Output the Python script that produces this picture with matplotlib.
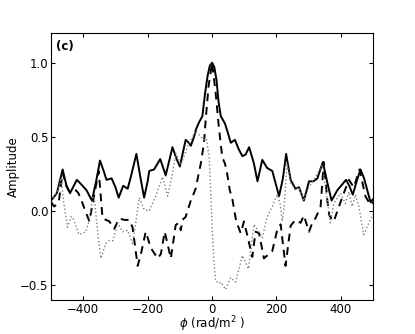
import numpy as np
import matplotlib
matplotlib.use("Agg")
import matplotlib.pyplot as plt

# amplitude |F(phi)| (solid)
phi_amp = [-500, -482, -464, -452, -441, -420, -402, -390, -373, -360, -348, -335, -328, -312,
           -300, -290, -276, -262, -250, -235, -222, -211, -200, -195, -180, -161, -150, -144,
           -134, -123, -110, -100, -90, -82, -72, -66, -56, -50, -40, -30, -22, -14, -7, 0,
           7, 14, 20, 27, 40, 50, 58, 71, 82, 94, 104, 115, 122, 130, 141, 156, 171, 187,
           208, 220, 230, 244, 259, 270, 285, 301, 315, 327, 344, 357, 371, 389, 416, 426,
           437, 449, 461, 472, 482, 492, 500]
amp = [0.07, 0.12, 0.28, 0.17, 0.12, 0.21, 0.17, 0.14, 0.07, 0.20, 0.34, 0.26, 0.21, 0.22,
       0.16, 0.09, 0.17, 0.15, 0.25, 0.385, 0.22, 0.09, 0.20, 0.27, 0.28, 0.35, 0.28, 0.24,
       0.33, 0.43, 0.35, 0.30, 0.40, 0.48, 0.46, 0.44, 0.50, 0.55, 0.60, 0.64, 0.79, 0.91, 0.98, 1.0,
       0.97, 0.88, 0.74, 0.64, 0.59, 0.52, 0.46, 0.48, 0.42, 0.37, 0.38, 0.43, 0.38, 0.32, 0.20, 0.345, 0.29, 0.27,
       0.10, 0.22, 0.385, 0.21, 0.15, 0.16, 0.07, 0.20, 0.20, 0.22, 0.33, 0.20, 0.07, 0.14, 0.21, 0.17,
       0.11, 0.20, 0.28, 0.22, 0.14, 0.06, 0.08]

# real part (dashed)
phi_re = [-500, -490, -476, -464, -455, -443, -423, -415, -402, -397, -381, -371, -352, -340,
          -319, -304, -288, -273, -257, -247, -231, -221, -206, -190, -169, -159, -147, -128,
          -113, -104, -97, -92, -82, -66, -51, -35, -25, -20, -11, 0, 11, 20, 27, 32, 40, 47,
          55, 63, 75, 89, 99, 110, 125, 135, 146, 161, 187, 202, 213, 228, 244, 259, 275, 285,
          301, 313, 321, 337, 347, 358, 364, 378, 394, 409, 425, 440, 458, 476, 492, 500]
re = [0.06, 0.03, 0.06, 0.26, 0.18, 0.13, 0.14, 0.12, 0.05, 0.02, -0.07, 0.05, 0.27, -0.05,
      -0.07, -0.12, -0.05, -0.06, -0.06, -0.11, -0.37, -0.29, -0.14, -0.25, -0.32, -0.29, -0.14, -0.32,
      -0.095, -0.08, -0.13, -0.06, -0.04, 0.07, 0.15, 0.32, 0.46, 0.61, 0.84, 1.0, 0.80, 0.59, 0.45, 0.36, 0.32, 0.25,
      0.14, 0.08, -0.07, -0.15, -0.07, -0.17, -0.31, -0.14, -0.15, -0.32, -0.27, -0.13, -0.09, -0.37, -0.10, -0.06, -0.08, -0.03,
      -0.14, -0.07, -0.05, 0.03, 0.33, 0.07, -0.03, -0.07, 0.03, 0.12, 0.21, 0.16, 0.28, 0.10, 0.04, 0.06]

# imaginary part (dotted)
phi_im = [-500, -490, -480, -469, -460, -449, -438, -433, -413, -392, -381, -371, -366, -355,
          -345, -330, -319, -308, -293, -278, -262, -247, -235, -226, -211, -195, -175, -154,
          -138, -123, -113, -97, -77, -51, -35, -25, -18, -9, -4, 1, 6, 11, 22, 27, 42, 58,
          73, 94, 113, 130, 156, 171, 187, 202, 211, 218, 223, 233, 244, 259, 270, 285, 301,
          316, 342, 356, 367, 378, 399, 414, 425, 435, 445, 456, 471, 487, 500]
im = [0.07, 0.10, 0.13, 0.22, 0.05, -0.11, -0.04, -0.04, -0.16, -0.14, -0.06, 0.09, 0.10, -0.15,
      -0.32, -0.22, -0.20, -0.20, -0.08, -0.14, -0.13, -0.22, -0.05, 0.09, 0.01, 0.0, 0.10, 0.23,
      0.10, 0.25, 0.39, 0.31, 0.43, 0.54, 0.50, 0.48, 0.49, 0.37, 0.12, -0.15, -0.35, -0.47, -0.49, -0.48, -0.53, -0.45,
      -0.48, -0.30, -0.39, -0.09, -0.18, -0.04, 0.03, 0.11, 0.05, -0.07, 0.01, 0.32, 0.19, 0.14, 0.16, 0.07, 0.16,
      0.21, 0.31, 0.10, -0.08, 0.05, 0.12, 0.05, 0.13, 0.03, 0.11, 0.03, -0.16, -0.08, -0.02]

fig = plt.figure(figsize=(4.15, 3.34), dpi=100)
ax = fig.add_axes([0.123, 0.102, 0.776, 0.799])

ax.plot(phi_amp, amp, color="black", lw=1.4, ls="-")
ax.plot(phi_re, re, color="black", lw=1.4, ls="--", dashes=(4, 3))
ax.plot(phi_im, im, color="gray", lw=1.0, ls=":")

ax.set_xlim(-500, 500)
ax.set_ylim(-0.6, 1.2)
ax.set_xticks([-400, -200, 0, 200, 400])
ax.set_yticks([-0.5, 0.0, 0.5, 1.0])
ax.tick_params(direction="in", top=True, right=True, labelsize=8.5, length=3, pad=2)
ax.set_xlabel(r"$\phi$ (rad/m$^2$ )", fontsize=8.5, labelpad=-1)
ax.set_ylabel("Amplitude", fontsize=8.5, labelpad=0)
ax.text(0.015, 0.975, "(c)", transform=ax.transAxes, fontsize=8.5, fontweight="bold",
        va="top", ha="left")

fig.savefig("out.png", dpi=100)
